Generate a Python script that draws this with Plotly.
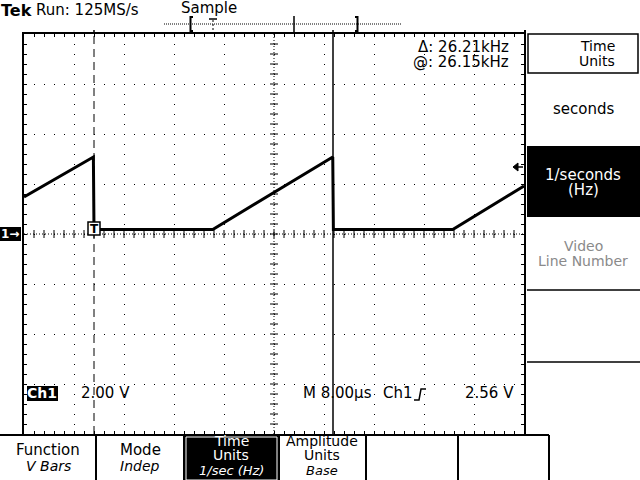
import plotly.graph_objects as go

W, H = 640, 480
FONT = "DejaVu Sans"

# ---------------- data ----------------
time_us = [0.0, 11.1, 11.2, 30.2, 49.4, 49.5, 68.6, 80.0]
ch1_volts = [1.48, 3.08, 0.18, 0.18, 3.08, 0.18, 0.18, 1.92]
cursor_us = [11.2, 49.44]
trigger_level_v = 2.56
volts_per_div = 2.0
us_per_div = 8.0
n_xdiv, n_ydiv = 10, 8

# graticule placement (pixels)
GX0, GX1, GY0, GY1 = 24, 524, 34, 434


def px(x):
    return x / W


def py(y):
    return 1 - y / H


xr = [0, n_xdiv * us_per_div]
yr = [-n_ydiv / 2 * volts_per_div, n_ydiv / 2 * volts_per_div]

fig = go.Figure()
fig.add_trace(go.Scatter(x=time_us, y=ch1_volts, mode="lines",
                         line=dict(color="black", width=3), hoverinfo="skip"))

axis_common = dict(showline=True, linecolor="black", linewidth=2, mirror="allticks",
                   showticklabels=False, zeroline=False, showgrid=True,
                   gridcolor="black", gridwidth=1, griddash="1px,9px",
                   ticks="inside", ticklen=3, tickcolor="black", tickwidth=1)

fig.update_xaxes(domain=[px(GX0), px(GX1)], range=xr, dtick=us_per_div, tick0=0,
                 minor=dict(dtick=us_per_div / 5, tick0=0, ticks="inside", ticklen=3,
                            tickcolor="black", tickwidth=1, showgrid=False),
                 **axis_common)
fig.update_yaxes(domain=[py(GY1), py(GY0)], range=yr, dtick=volts_per_div, tick0=0,
                 minor=dict(dtick=volts_per_div / 5, tick0=0, ticks="inside", ticklen=3,
                            tickcolor="black", tickwidth=1, showgrid=False),
                 **axis_common)

shapes = []
xc = (xr[0] + xr[1]) / 2
# centre crosshair (denser dots + ticks)
shapes.append(dict(type="line", xref="x", yref="y", x0=xr[0], x1=xr[1], y0=0, y1=0,
                   line=dict(color="black", width=1, dash="1px,2px")))
shapes.append(dict(type="line", xref="x", yref="y", x0=xc, x1=xc, y0=yr[0], y1=yr[1],
                   line=dict(color="black", width=1, dash="1px,2px")))
dx_minor = us_per_div / 5
dy_minor = volts_per_div / 5
for i in range(1, n_xdiv * 5):
    t = xr[0] + i * dx_minor
    shapes.append(dict(type="line", xref="x", yref="y", x0=t, x1=t,
                       y0=-dy_minor * 0.4, y1=dy_minor * 0.4,
                       line=dict(color="black", width=1)))
for j in range(1, n_ydiv * 5):
    v = yr[0] + j * dy_minor
    shapes.append(dict(type="line", xref="x", yref="y",
                       x0=xc - dx_minor * 0.4, x1=xc + dx_minor * 0.4,
                       y0=v, y1=v, line=dict(color="black", width=1)))

# cursors
shapes.append(dict(type="line", xref="x", yref="y", x0=cursor_us[0], x1=cursor_us[0],
                   y0=yr[0], y1=yr[1], line=dict(color="black", width=1, dash="8px,5px")))
shapes.append(dict(type="line", xref="x", yref="y", x0=cursor_us[1], x1=cursor_us[1],
                   y0=yr[0], y1=yr[1], line=dict(color="black", width=1.5)))
for c in cursor_us:
    shapes.append(dict(type="line", xref="x", yref="paper", x0=c, x1=c,
                       y0=py(GY0), y1=py(GY0 - 4), line=dict(color="black", width=1.5)))


def pline(x0, y0, x1, y1, w=1.5, dash=None, color="black"):
    ln = dict(color=color, width=w)
    if dash:
        ln["dash"] = dash
    shapes.append(dict(type="line", xref="paper", yref="paper",
                       x0=px(x0), y0=py(y0), x1=px(x1), y1=py(y1), line=ln))


def prect(x0, y0, x1, y1, fill=None, lw=1.5, lc="black"):
    shapes.append(dict(type="rect", xref="paper", yref="paper",
                       x0=px(x0), y0=py(y0), x1=px(x1), y1=py(y1),
                       fillcolor=fill if fill else "rgba(0,0,0,0)",
                       line=dict(color=lc, width=lw)))


def ppath(pts, fill=None, lw=1.5, closed=False):
    d = "M " + " L ".join(f"{px(x)},{py(y)}" for x, y in pts)
    if closed:
        d += " Z"
    shapes.append(dict(type="path", xref="paper", yref="paper", path=d,
                       fillcolor=fill if fill else "rgba(0,0,0,0)",
                       line=dict(color="black", width=lw)))


# record view bar at the top
pline(164, 24, 402, 24, w=1, dash="1px,1px")
ppath([(193, 17), (190.5, 17), (190.5, 31), (193, 31)], lw=2)
ppath([(355, 17), (357.5, 17), (357.5, 31), (355, 31)], lw=2)
pline(294, 16, 294, 32, w=1.5)
pline(213, 20, 213, 34, w=1, dash="2px,2px")
pline(209, 19, 217, 19, w=1.5)

# right-hand menu
pline(525, 30, 525, 435, w=2)
prect(528, 34, 638, 73, lw=1.5)
prect(527, 146, 640, 217, fill="black", lw=0)
pline(527, 290, 640, 290, w=1.5)
pline(527, 362, 640, 362, w=1.5)

# bottom menu
pline(0, 435, 549, 435, w=2)
for xs in [96, 184, 279, 366, 458, 549]:
    pline(xs, 435, xs, 480, w=2)
prect(184, 436, 279, 480, fill="black", lw=0)
prect(186, 437, 277, 480, lw=1, lc="white")

# Ch1 ground marker and label boxes
prect(0, 227, 21, 241, fill="black", lw=0)
prect(27, 386, 58, 401, fill="black", lw=0)
# trigger marker box on trace
prect(88, 222, 100, 235, fill="white", lw=1.5)

# trigger level arrow at right edge
ppath([(513, 167), (518, 163), (518, 171)], fill="black", lw=1, closed=True)
pline(517, 167, 523, 167, w=1.5)

# trigger slope symbol
ppath([(414, 400), (419, 400), (421, 389), (426, 389)], lw=1.5)

annotations = []


def txt(x, y, s, size=15, color="black", xanchor="center", family=FONT):
    annotations.append(dict(x=px(x), y=py(y), xref="paper", yref="paper", text=s,
                            showarrow=False, xanchor=xanchor, yanchor="middle",
                            borderpad=0,
                            font=dict(family=family, size=size, color=color)))


txt(0, 10, "<b>Tek</b>", size=16, xanchor="left")
txt(35, 10, "Run: 125MS/s", size=15, xanchor="left")
txt(180, 8, "Sample", size=15, xanchor="left")

txt(510, 47, "Δ: 26.21kHz", size=15, xanchor="right")
txt(510, 62, "@: 26.15kHz", size=15, xanchor="right")

txt(597, 46, "Time", size=14)
txt(597, 61, "Units", size=14)
txt(583, 109, "seconds", size=15)
txt(583, 175, "1/seconds", size=15, color="white")
txt(583, 190, "(Hz)", size=15, color="white")
txt(583, 246, "Video", size=14, color="#8a8a8a")
txt(583, 261, "Line Number", size=14, color="#8a8a8a")

txt(48, 450, "Function", size=15)
txt(48, 466, "<i>V Bars</i>", size=14)
txt(140, 450, "Mode", size=15)
txt(140, 466, "<i>Indep</i>", size=14)
txt(231, 441, "Time", size=14, color="white")
txt(231, 455, "Units", size=14, color="white")
txt(231, 470, "<i>1/sec (Hz)</i>", size=13, color="white")
txt(322, 441, "Amplitude", size=14)
txt(322, 455, "Units", size=14)
txt(322, 470, "<i>Base</i>", size=13)

txt(10, 234, "<b>1→</b>", size=12, color="white")
txt(42, 393, "<b>Ch1</b>", size=14, color="white")
txt(80, 393, "2.00 V", size=15, xanchor="left")
txt(302, 393, "M 8.00µs", size=15, xanchor="left")
txt(382, 393, "Ch1", size=15, xanchor="left")
txt(515, 393, "2.56 V", size=15, xanchor="right")
txt(94, 228.5, "<b>T</b>", size=12)

fig.update_layout(width=W, height=H, margin=dict(l=0, r=0, t=0, b=0),
                  paper_bgcolor="white", plot_bgcolor="white", showlegend=False,
                  shapes=shapes, annotations=annotations)

fig.write_html("out.html", include_plotlyjs=True, config={"displayModeBar": False},
               post_script="document.body.style.margin='0';document.body.style.overflow='hidden';")
